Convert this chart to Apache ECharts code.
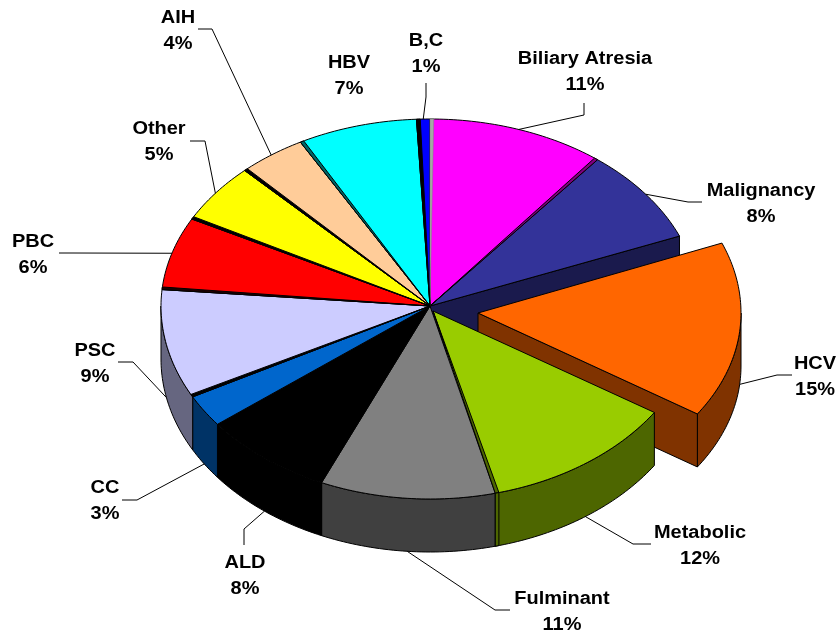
<!DOCTYPE html>
<html>
<head>
<meta charset="utf-8">
<style>html,body{margin:0;padding:0;background:#fff}#c{width:840px;height:631px}</style>
<script src="https://cdn.jsdelivr.net/npm/echarts@6/dist/echarts.min.js"></script>
</head>
<body>
<div id="c"></div>
<script>
// ---- data (percent of total; printed labels are these values rounded) ----
var categories = ['Biliary Atresia','Malignancy','HCV','Metabolic','Fulminant','ALD','CC','PSC','PBC','Other','AIH','HBV','B,C'];
var shares     = [10.7, 8.2, 15.4, 11.8, 10.5, 7.9, 2.7, 9.2, 6.3, 5.2, 4.1, 7.2, 0.8];
// ---- styles ----
var topColors  = ['#ff00ff','#333399','#ff6600','#99cc00','#808080','#000000','#0066cc','#ccccff','#ff0000','#ffff00','#ffcc99','#00ffff','#0000ff'];
var sideColors = ['#800080','#1a1a4d','#803300','#4d6600','#404040','#000000','#003366','#666680','#800000','#808000','#806650','#008080','#000080'];
// colour of the thin gap along one radial edge of a slice (null: none)
var gapColors  = ['#800080',null,null,'#4d6600',null,null,null,'#000000','#200000','#000000','#000000','#006666','#000000'];
// ---- layout of the tilted pie ----
var PIE = {cx:430, cy:306, rx:269, top:187, bot:193};
var EXPLODED = {cx:478, cy:313, rx:263, top:187, bot:183};
var DEPTH = 53, EXPLODED_INDEX = 2, SLIVER = 0.8;
var LOW_APEX = [433, 311];
// label centre [x,y] and leader elbow points, per category
var labelAt = [[585,72],[761,204],[815,377],[700,546],[562,612],[245,576],[105,501],[95,364],[33,255],[159,142],[178,31],[349,76],[426,54]];
var leaderVia = [
  [[584,115],[584,103]], [[688,202],[702,202]], [[777,375],[792,375]], [[633,544],[651,544]],
  [[495,610],[510,610]], [[244,529],[244,545]], [[137,500],[122,500]], [[133,362],[118,362]],
  [[72,253],[59,253]],   [[205,141],[190,141]], [[212,29],[198,29]],   null, [[426,97],[426,83]]
];

var cum = [0];
shares.forEach(function (v, i) { cum.push(cum[i] + v); });
var total = cum[cum.length - 1];
function ang(c) { return c / total * 360; }
function rim(t, o) {
  var r = t * Math.PI / 180, s = Math.sin(r), c = Math.cos(r);
  return [o.cx + o.rx * s, o.cy - c * (c > 0 ? o.top : o.bot)];
}
function arc(a, b, o, dy) {
  var pts = [], n = Math.max(2, Math.ceil(Math.abs(b - a)));
  for (var i = 0; i <= n; i++) {
    var p = rim(a + (b - a) * i / n, o);
    pts.push([p[0], p[1] + (dy || 0)]);
  }
  return pts;
}
function poly(points, fill, z2) {
  return {type:'polygon', z2:z2, shape:{points:points},
    style:{fill:fill, stroke:'#000', lineWidth:1, lineJoin:'round'}};
}

function renderItem(params, api) {
  var i = params.dataIndex;
  var a = ang(cum[i]), b = ang(cum[i + 1]), mid = (a + b) / 2;
  var ex = i === EXPLODED_INDEX;
  var o = ex ? EXPLODED : PIE;
  var apex = (i === 3) ? LOW_APEX : [o.cx, o.cy];
  var kids = [];
  // top face
  kids.push(poly([apex].concat(arc(a, b, o)), topColors[i], ex ? 3 : 5));
  // outer wall (the part of the rim facing the viewer)
  var wa = Math.max(a, 90), wb = Math.min(b, 270);
  if (wb > wa) {
    var top = arc(wa, wb, o), low = arc(wa, wb, o, DEPTH).reverse();
    kids.push(poly(top.concat(low), sideColors[i], ex ? 2 : 4));
  }
  // exposed cut faces beside the pulled-out slice
  if (ex) {
    var e = rim(b, o);
    kids.push(poly([apex, e, [e[0], e[1] + DEPTH], [apex[0], apex[1] + DEPTH]], sideColors[i], 2));
  }
  if (i === EXPLODED_INDEX - 1) {
    var m = rim(b, o);
    kids.push(poly([apex, m, [m[0], m[1] + DEPTH], [apex[0], apex[1] + DEPTH]], sideColors[i], 1));
  }
  // thin dark gap along the radial edge, where slices are slightly apart
  if (gapColors[i]) {
    var edge = b <= 180 ? [b - SLIVER, b] : [a, a + SLIVER];
    kids.push(poly([apex].concat(arc(edge[0], edge[1], o)), gapColors[i], 6));
    if (b <= 180 && b > 90) {
      var s1 = arc(edge[0], edge[1], o), s2 = arc(edge[0], edge[1], o, DEPTH).reverse();
      kids.push(poly(s1.concat(s2), gapColors[i], 6));
    }
  }
  if (i === 0) {
    kids.push({type:'polygon', z2:6, shape:{points:[apex].concat(arc(0, SLIVER, o))},
      style:{fill:'#a6a6a6', stroke:'#808080', lineWidth:0.5}});
  }
  // leader line, starting at the middle of the slice's rim
  if (leaderVia[i]) {
    var start = rim(mid, o);
    if (mid > 90 && mid < 270) start = [start[0], start[1] + DEPTH];
    kids.push({type:'polyline', z2:7, shape:{points:[start].concat(leaderVia[i])},
      style:{fill:'none', stroke:'#000', lineWidth:1}});
  }
  // label
  kids.push({type:'text', z2:8, x:labelAt[i][0], y:labelAt[i][1], scaleX:1.07,
    style:{text:categories[i] + '\n' + Math.round(api.value(0)) + '%',
      fontFamily:'"Liberation Sans", Arial, sans-serif', fontWeight:'bold', fontSize:18.67,
      lineHeight:25.5, fill:'#000', align:'center', verticalAlign:'middle'}});
  return {type:'group', children:kids};
}

var chart = echarts.init(document.getElementById('c'), null, {renderer:'canvas'});
chart.setOption({
  animation:false,
  backgroundColor:'#ffffff',
  series:[{
    type:'custom',
    coordinateSystem:'none',
    silent:true,
    renderItem:renderItem,
    data:shares.map(function (v, i) { return {name:categories[i], value:[v]}; })
  }]
});
</script>
</body>
</html>
